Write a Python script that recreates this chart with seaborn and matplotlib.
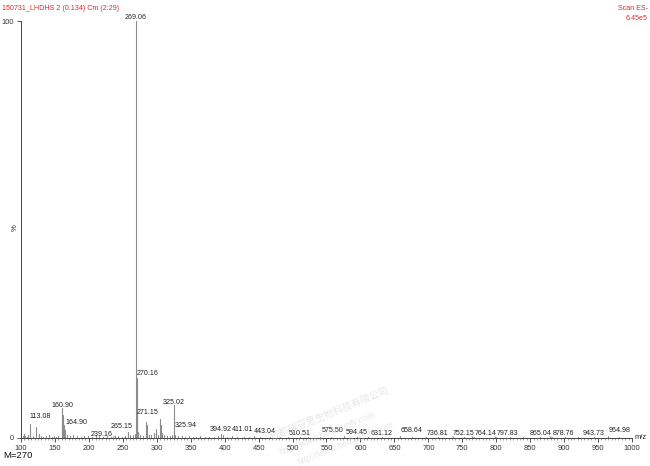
import numpy as np
import pandas as pd
import seaborn as sns
import matplotlib.pyplot as plt
from matplotlib.ticker import MultipleLocator

# labelled peaks (m/z, relative intensity %)
label_mz = [113.08, 160.90, 164.90, 239.16, 265.15, 269.06, 270.16, 271.15,
            325.02, 325.94, 394.92, 411.01, 443.04, 510.51, 575.50, 594.45,
            631.12, 658.64, 736.81, 752.15, 764.14, 797.83, 865.04, 878.76,
            943.73, 964.98]
label_int = [3.4, 7.2, 2.0, 0.5, 0.6, 100.0, 14.4, 5.5,
             7.9, 1.5, 1.0, 0.5, 0.5, 0.3, 0.4, 0.3,
             0.3, 0.4, 0.3, 0.3, 0.3, 0.3, 0.3, 0.3,
             0.3, 0.4]

# unlabelled peaks / baseline
minor_mz = [102.5, 104, 106, 108.2, 111, 117, 122, 126, 129, 133, 137, 141,
            145, 149, 152, 155, 159.9, 162, 163, 168, 172, 177, 183, 188,
            193, 199, 205, 211, 215, 221, 227, 233, 243, 249, 253, 257, 261,
            267.5, 272.2, 275, 279, 283.6, 285.5, 288, 292, 296, 299.5, 302,
            304.7, 306.2, 308, 311, 315, 319, 323, 327, 331, 337, 341, 347,
            353, 358, 363, 371, 377, 385, 390, 397, 403, 418, 428, 436, 452,
            467, 481, 493, 523, 541, 556, 611, 676, 697, 714, 821, 839, 902,
            921, 981]
minor_int = [0.4, 0.9, 0.5, 0.3, 0.6, 0.4, 2.6, 0.9, 0.4, 0.3, 0.5, 0.6,
             0.3, 0.4, 0.3, 0.5, 4.5, 5.5, 3.0, 0.8, 0.5, 0.6, 0.4, 0.3,
             0.5, 0.4, 0.3, 0.6, 0.4, 0.3, 0.5, 0.3, 0.4, 0.3, 0.5, 1.4, 0.6,
             1.0, 1.5, 0.6, 0.5, 3.8, 3.0, 0.8, 0.6, 1.2, 2.1, 0.8,
             4.6, 3.0, 1.2, 0.7, 0.4, 0.5, 0.6, 0.8, 0.4, 0.5, 0.3, 0.4,
             0.3, 0.3, 0.4, 0.3, 0.3, 0.3, 0.4, 0.6, 0.3, 0.3, 0.3, 0.2, 0.3,
             0.2, 0.3, 0.2, 0.2, 0.3, 0.2, 0.2, 0.2, 0.2, 0.2, 0.2, 0.2, 0.2,
             0.2, 0.2]

# label placement: text x (m/z), text baseline (%), alignment
label_tx = [113.08, 160.90, 166.0, 235.0, 265.0, 269.06, 270.16, 270.5,
            325.02, 326.0, 394.92, 411.01, 443.04, 510.51, 575.50, 594.45,
            631.12, 658.64, 730.3, 752.15, 768.6, 801.0, 865.04, 883.5,
            943.73, 964.98]
label_ty = [4.8, 7.5, 3.3, 0.5, 2.4, 100.6, 15.0, 5.8,
            8.1, 2.6, 1.7, 1.7, 1.2, 0.7, 1.4, 1.0,
            0.7, 1.4, 0.6, 0.6, 0.6, 0.6, 0.6, 0.6,
            0.6, 1.4]
label_ha = ["left", "center", "left", "right", "right", "center", "left", "left",
            "center", "left", "center", "left", "left", "center", "right", "center",
            "center", "left", "right", "center", "left", "left", "center", "left",
            "center", "left"]

all_mz = label_mz + minor_mz
all_int = label_int + minor_int
rows = []
for i, (m, h) in enumerate(zip(all_mz, all_int)):
    rows.append({"mz": m, "intensity": 0.0, "peak": i})
    rows.append({"mz": m, "intensity": h, "peak": i})
df = pd.DataFrame(rows)

sns.set_style("ticks")
plt.rcParams["font.family"] = ["Liberation Sans", "DejaVu Sans"]

fs = 5.1
fig = plt.figure(figsize=(6.5, 4.66), dpi=100)
ax = fig.add_axes([0.0323, 0.0601, 0.9400, 0.8948])

sns.lineplot(data=df, x="mz", y="intensity", units="peak", estimator=None,
             sort=False, color="#8c8c8c", linewidth=0.8, ax=ax)

ax.set_xlim(100, 1000)
ax.set_ylim(0, 100)
ax.set_xlabel("")
ax.set_ylabel("")
ax.xaxis.set_major_locator(MultipleLocator(50))
ax.xaxis.set_minor_locator(MultipleLocator(5))
ax.set_yticks([0, 100])
ax.tick_params(axis="both", which="major", labelsize=fs + 0.3, length=3,
               width=0.6, colors="#333333", pad=2)
ax.tick_params(axis="x", which="minor", length=1.5, width=0.4, colors="#555555")
sns.despine(ax=ax)
for s in ["left", "bottom"]:
    ax.spines[s].set_color("#444444")
    ax.spines[s].set_linewidth(0.7)

txt_kw = dict(fontsize=fs, color="#222222", va="baseline")
for m, h, tx, ty, ha in zip(label_mz, label_int, label_tx, label_ty, label_ha):
    lab = f"{m:.2f}"
    if ha == "center" or abs(tx - m) < 1:
        ax.text(tx, ty, lab, ha=ha, clip_on=False, **txt_kw)
    else:
        # leader line from the label's lower corner down to the peak top
        corner = (0, 0) if ha == "left" else (1, 0)
        ax.annotate(lab, xy=(m, h), xytext=(tx, ty), ha=ha,
                    arrowprops=dict(arrowstyle="-", color="#888888", lw=0.5,
                                    shrinkA=0, shrinkB=0, relpos=corner),
                    **txt_kw)

red = "#e0282d"
fig.text(2 / 650, 1 - 8 / 466, "150731_LHDHS 2 (0.134) Cm (2:29)", color=red,
         fontsize=fs, ha="left", va="center")
fig.text(648 / 650, 1 - 8 / 466, "Scan ES-", color=red, fontsize=fs,
         ha="right", va="center")
fig.text(648 / 650, 1 - 18 / 466, "6.45e5", color=red, fontsize=fs,
         ha="right", va="center")
fig.text(15 / 650, 1 - 228 / 466, "%", fontsize=5.5, color="#222222",
         rotation=90, ha="center", va="center")
fig.text(641 / 650, 1 - 437.5 / 466, "m/z", fontsize=5.5, color="#222222",
         ha="center", va="center")
fig.text(3 / 650, 1 - 455 / 466, "M=270", fontsize=6.8, color="#111111",
         ha="left", va="center")

# faint watermark
wm = dict(color="#c8c8c8", alpha=0.45, rotation=22, ha="center", va="center")
fig.text(330 / 650, 1 - 413 / 466, "成都瑞芬思生物科技有限公司", fontsize=7,
         family=["Noto Sans CJK SC", "DejaVu Sans"], **wm)
fig.text(328 / 650, 1 - 434 / 466, "http://www.herbpurify.com", fontsize=6.5,
         style="italic", **wm)
fig.text(346 / 650, 1 - 444 / 466, "http://www.herbpurify.com", fontsize=6.5,
         style="italic", **wm)

fig.savefig("out.png", dpi=100)
